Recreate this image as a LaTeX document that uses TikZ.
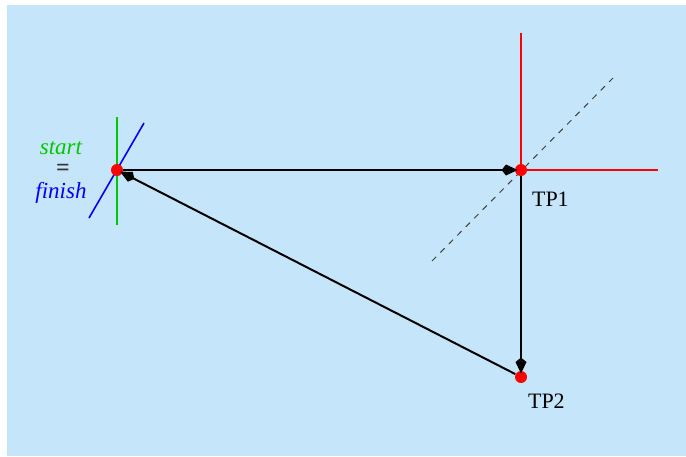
\documentclass[tikz,border=0pt]{standalone}
\usepackage{fontspec}
\setmainfont{Liberation Serif}
\usetikzlibrary{arrows.meta}
\definecolor{skyback}{RGB}{197,229,251}
\definecolor{startgreen}{RGB}{0,200,0}

\begin{document}
\begin{tikzpicture}[x=0.5pt,y=-0.5pt,
    dot/.style={circle,fill=red,inner sep=0pt,minimum size=6pt},
    leg/.style={draw=black,line width=1pt,-{Kite[length=8pt,width=5.5pt,inset=2.2pt]}},
    axis/.style={line width=0.8pt}]
    \useasboundingbox (0,0) rectangle (686,456);
    \fill[skyback] (7,5) rectangle (686,456);
    % axes at start / finish
    \draw[axis, startgreen] (117,117) -- (117,225);
    \draw[axis, blue] (89,218) -- (144,123);
    % axes at TP1
    \draw[axis, red] (521,33) -- (521,170) -- (658,170);
    \draw[black!75, dashed, dash pattern=on 3pt off 3pt, line width=0.5pt] (432,261) -- (613,78);
    % turn points
    \node[dot] (start) at (117,170) {};
    \node[dot] (tp1) at (521,170) {};
    \node[dot] (tp2) at (521,377) {};
    % legs
    \draw[leg, shorten >=-1.5pt] (start) -- (tp1);
    \draw[leg, shorten >=-1.5pt] (tp1) -- (tp2);
    \draw[leg, shorten >=-1.5pt] (tp2) -- (start);
    % labels
    \node[anchor=west, font=\fontsize{11}{13}\selectfont] (tp1lbl) at (525,199) {TP1};
    \node[anchor=west, font=\fontsize{11}{13}\selectfont] (tp2lbl) at (521,401) {TP2};
    \node[text=startgreen, font=\fontsize{11.5}{14}\selectfont\itshape] (startlbl) at (61,148) {start};
    \node[text=black!80, font=\fontsize{12}{14}\selectfont\bfseries] (eqlbl) at (63,170) {=};
    \node[text=blue, font=\fontsize{11.5}{14}\selectfont\itshape] (finishlbl) at (61,193) {finish};
\end{tikzpicture}
\end{document}
